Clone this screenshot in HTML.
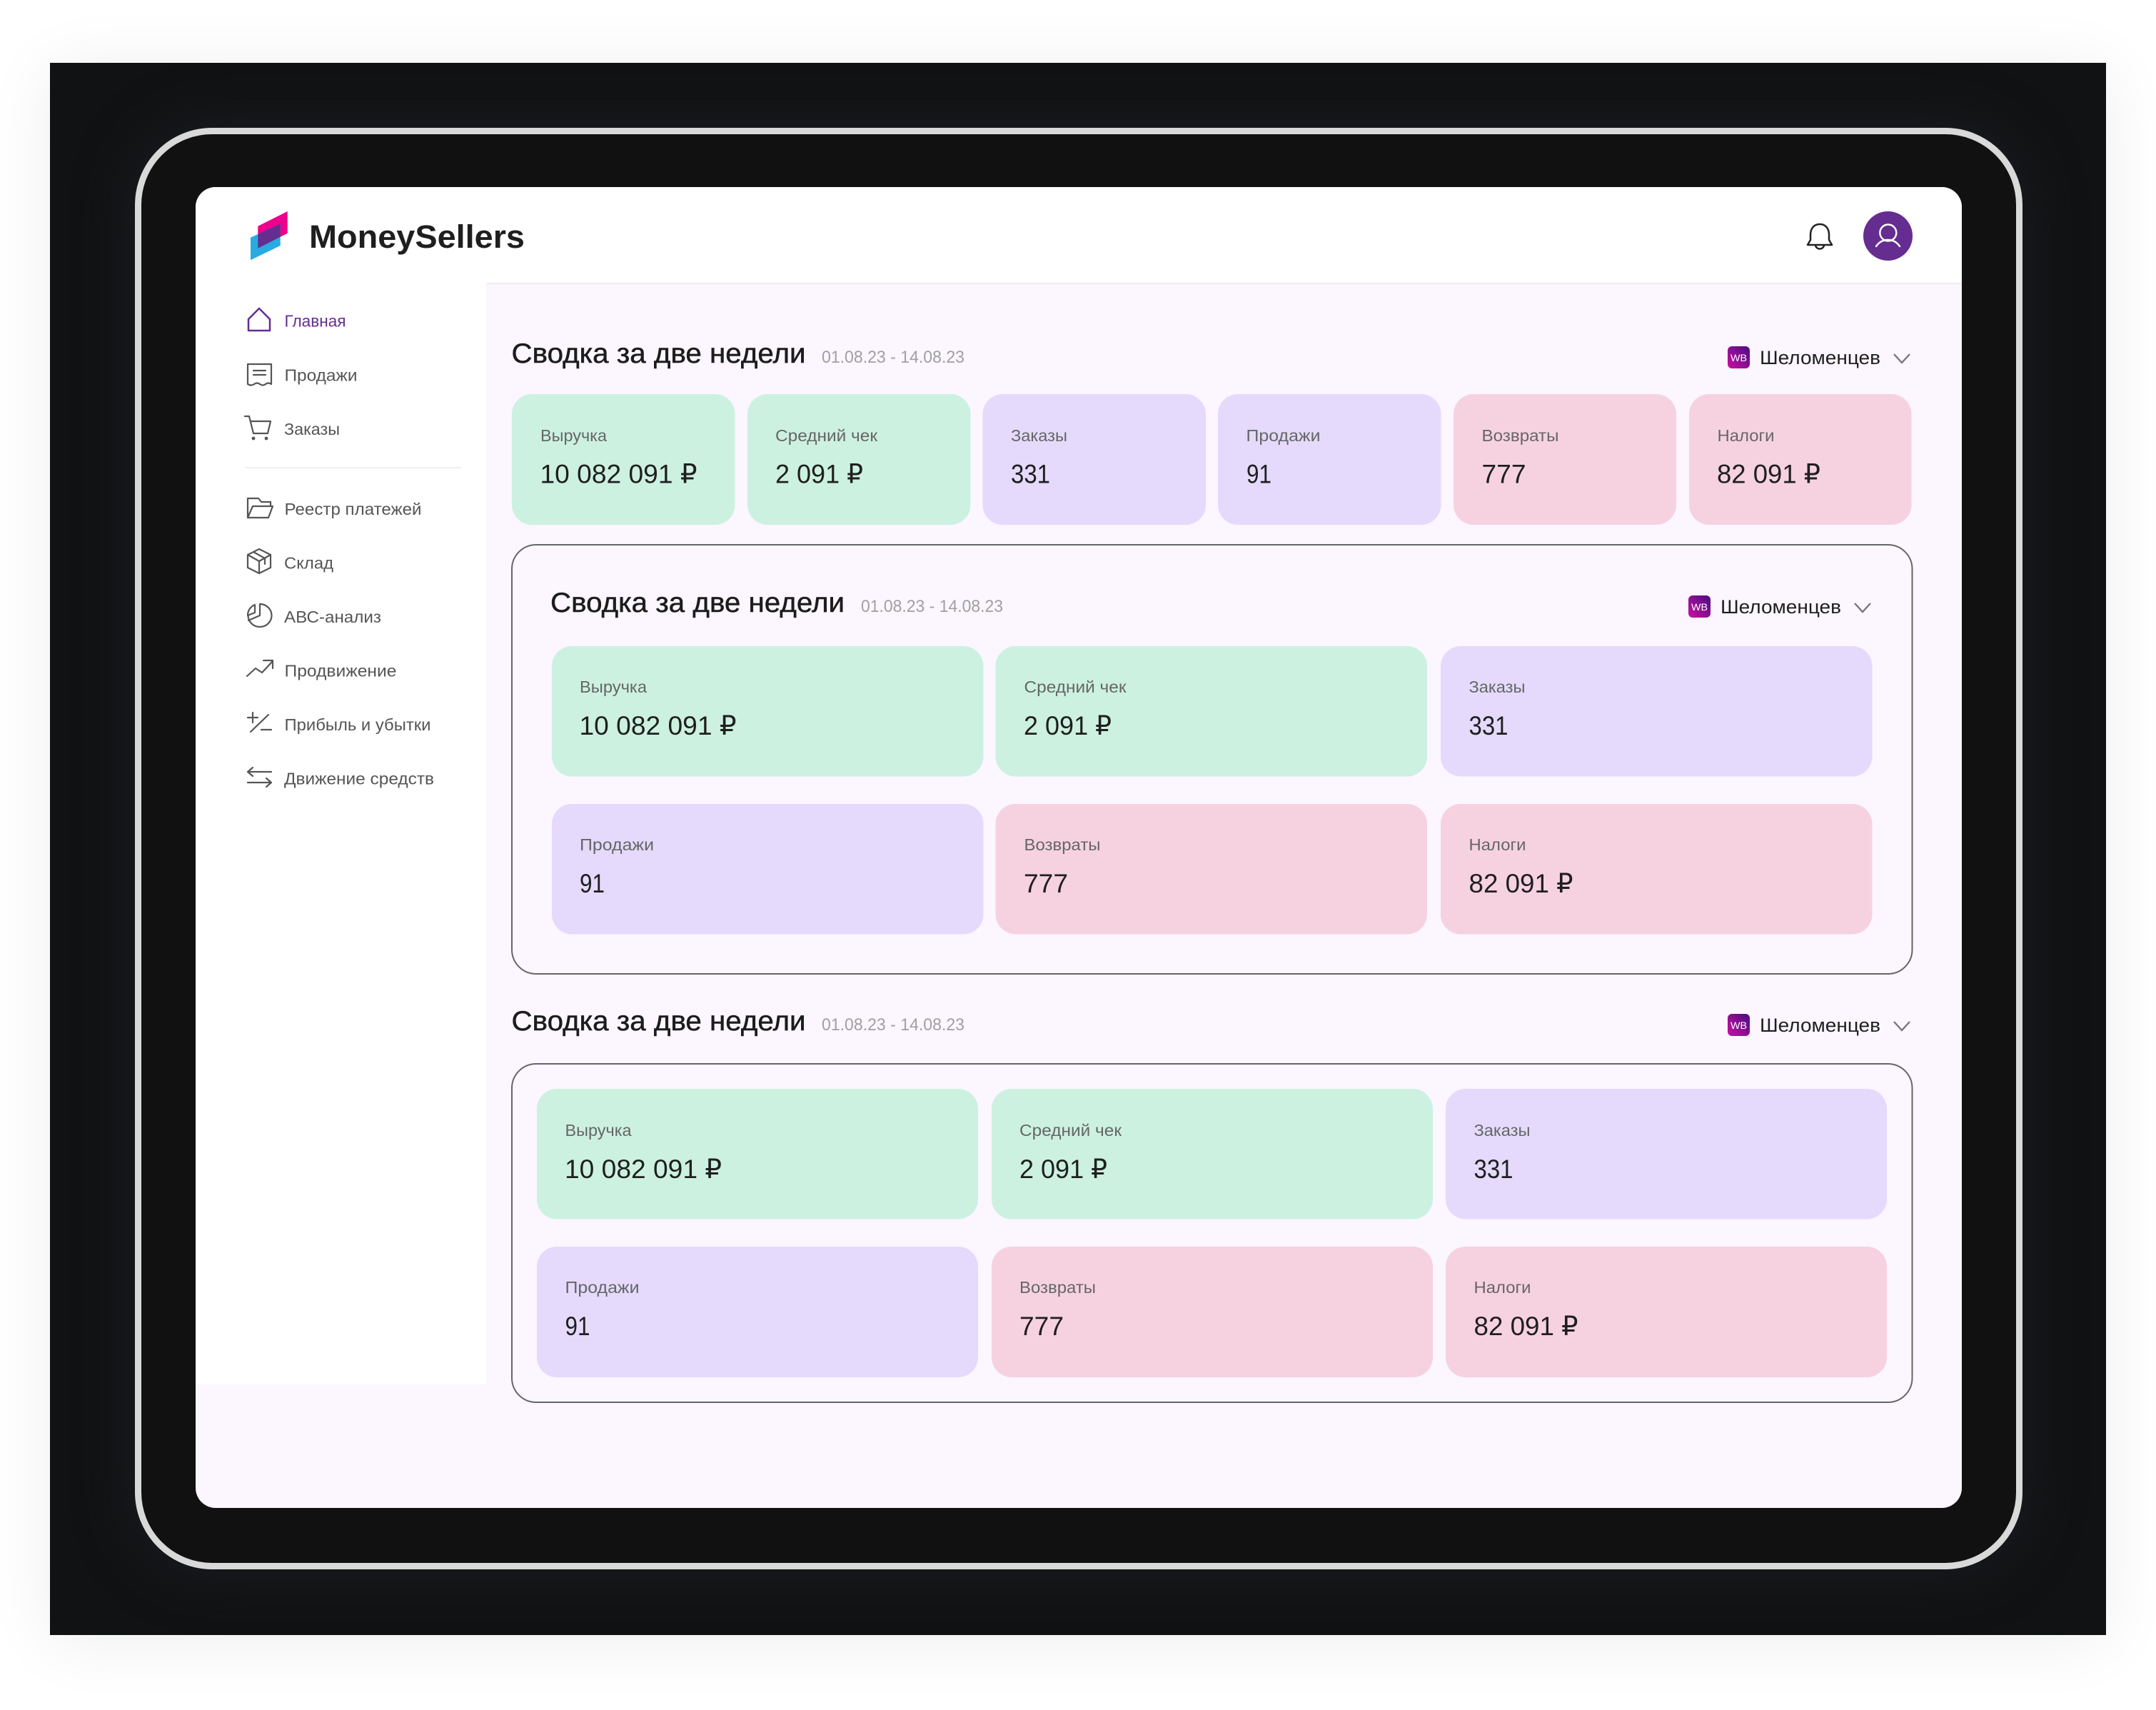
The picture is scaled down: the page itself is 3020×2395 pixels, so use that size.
<!DOCTYPE html>
<html lang="ru">
<head>
<meta charset="utf-8">
<title>MoneySellers</title>
<style>
html,body{margin:0;padding:0;width:3020px;height:2395px;overflow:hidden;background:#fff}
#dark{position:absolute;left:70px;top:88px;width:2880px;height:2202px;background:#111213;box-shadow:0 8px 90px rgba(0,0,0,.07)}
#frame{position:absolute;left:189px;top:179px;width:2644px;height:2019px;box-sizing:border-box;border:9px solid #d9d9d9;border-radius:108px;background:#111;box-shadow:0 0 70px 10px #191b20}
svg{position:absolute;left:0;top:0}
text{font-family:"Liberation Sans","DejaVu Sans",sans-serif}
.nav{font-size:23px;fill:#555}
.h{font-size:39px;fill:#1c1c1c;stroke:#1c1c1c;stroke-width:.5px}
.d{font-size:24px;fill:#a0a0a0}
.l{font-size:23px;fill:#666}
.v{font-size:37px;fill:#1f1f1f}
.s{font-size:27px;fill:#1f1f1f}
.w{font-size:14px;fill:#fff}
.ic{fill:none;stroke:#555;stroke-width:2.2;stroke-linejoin:round;stroke-linecap:round}
.g{fill:#CCF1E1}.p{fill:#E5DAFC}.r{fill:#F6D2E0}
.chev{fill:none;stroke:#777;stroke-width:2.4}
.box{fill:none;stroke:#666;stroke-width:2}
</style>
</head>
<body>
<div id="dark"></div>
<div id="frame"></div>
<svg width="3020" height="2395" viewBox="0 0 3020 2395" xmlns="http://www.w3.org/2000/svg">
<defs>
<linearGradient id="wb" x1="0" y1="1" x2="1" y2="0"><stop offset="0" stop-color="#c9119f"/><stop offset="1" stop-color="#4a0d82"/></linearGradient>
</defs>
<!-- screen -->
<rect x="274" y="262" width="2474" height="1850" rx="28" fill="#FBF6FF"/>
<path d="M274 1939V290a28 28 0 0 1 28-28H2720a28 28 0 0 1 28 28V397H681V1939Z" fill="#fff"/>
<rect x="681" y="396" width="2067" height="2" fill="#eeeef0"/>
<!-- logo -->
<polygon points="361.3,316.7 402.7,296 402.7,326.7 361.3,347.7" fill="#EC008C"/>
<polygon points="351,332.7 392.7,313.3 392.7,344 351,364.3" fill="#29ABE2"/>
<polygon points="361.3,327.9 392.7,313.3 392.7,331.8 361.3,347.7" fill="#652D90"/>
<text x="433" y="347" font-size="45" font-weight="700" fill="#1f1f1f" textLength="302" lengthAdjust="spacingAndGlyphs">MoneySellers</text>
<!-- bell, avatar -->
<path d="M2549 314c-9 0-13 7-13 15v7l-4 7h34l-4-7v-7c0-8-4-15-13-15Z" fill="none" stroke="#222" stroke-width="2.5" stroke-linejoin="round"/>
<path d="M2543 343a6 5.5 0 0 0 12 0" fill="none" stroke="#222" stroke-width="2.5"/>
<circle cx="2644.5" cy="330.5" r="34.5" fill="#652D90"/>
<circle cx="2644.8" cy="326" r="11.5" fill="none" stroke="#fff" stroke-width="2.4"/>
<path d="M2628 345c4-6 10-9 16.500-9s12.500 3 16.500 9" fill="none" stroke="#fff" stroke-width="2.4" stroke-linecap="round"/>
<!-- nav -->
<path d="M348 447L363 432L378 447V463H348Z" fill="none" stroke="#652D90" stroke-width="2.5" stroke-linejoin="round"/>
<text class="nav" x="398.500" y="457.600" style="fill:#652D90" textLength="86" lengthAdjust="spacingAndGlyphs">Главная</text>
<path class="ic" d="M347 510H380V538q-4-3-8 0t-8 0t-8 0t-9 0ZM355 519H372M355 525H372"/>
<text class="nav" x="398.500" y="533.500" textLength="102" lengthAdjust="spacingAndGlyphs">Продажи</text>
<path class="ic" d="M343 583H349L355 607H375L379 590H351"/><circle cx="355" cy="614" r="2.400" fill="#555"/><circle cx="373" cy="614" r="2.400" fill="#555"/>
<text class="nav" x="398" y="609" textLength="78" lengthAdjust="spacingAndGlyphs">Заказы</text>
<rect x="343" y="654" width="304" height="2" fill="#eeeef0"/>
<path class="ic" d="M347 725V698H362L366 703H379V709M347 725H376L382 709H354L347 725"/>
<text class="nav" x="398.500" y="721" textLength="192" lengthAdjust="spacingAndGlyphs">Реестр платежей</text>
<path class="ic" d="M363 769L379 777V795L363 803L347 795V777ZM347 777L363 786L379 777M363 786V803M355 773L371 782V790"/>
<text class="nav" x="398" y="796.400" textLength="69" lengthAdjust="spacingAndGlyphs">Склад</text>
<path class="ic" d="M364 846a16.500 16 0 1 1-16.500 16M364 846V862L348 869M347 862a16.500 16 0 0 1 10-15V858Z"/>
<text class="nav" x="398" y="872" textLength="136" lengthAdjust="spacingAndGlyphs">АВС-анализ</text>
<path class="ic" d="M346 947L358 936L367 942L381 927M369 925H382V936"/>
<text class="nav" x="398.500" y="947.400" textLength="157" lengthAdjust="spacingAndGlyphs">Продвижение</text>
<path class="ic" d="M347 1005H361M354 998V1012M351 1025L376 1001M366 1022H380"/>
<text class="nav" x="398.500" y="1023" textLength="205" lengthAdjust="spacingAndGlyphs">Прибыль и убытки</text>
<path class="ic" d="M347 1081H380M354 1075L347 1081L354 1087M347 1096H380M373 1090L380 1096L373 1102"/>
<text class="nav" x="398" y="1098.500" textLength="210" lengthAdjust="spacingAndGlyphs">Движение средств</text>

<!-- section 1 -->
<text class="h" x="716.500" y="508" textLength="412" lengthAdjust="spacingAndGlyphs">Сводка за две недели</text>
<text class="d" x="1151" y="508" textLength="200" lengthAdjust="spacingAndGlyphs">01.08.23 - 14.08.23</text>
<rect x="2420" y="485" width="31" height="31" rx="6" fill="url(#wb)"/>
<text class="w" x="2424" y="506" textLength="23" lengthAdjust="spacingAndGlyphs">WB</text>
<text class="s" x="2465" y="510" textLength="169" lengthAdjust="spacingAndGlyphs">Шеломенцев</text>
<path class="chev" d="M2653 496L2664 508L2675 496"/>

<rect class="g" x="717" y="552" width="312.500" height="183" rx="28"/>
<rect class="g" x="1047" y="552" width="312.500" height="183" rx="28"/>
<rect class="p" x="1376.500" y="552" width="312.500" height="183" rx="28"/>
<rect class="p" x="1706" y="552" width="312.500" height="183" rx="28"/>
<rect class="r" x="2036" y="552" width="312" height="183" rx="28"/>
<rect class="r" x="2366" y="552" width="311.500" height="183" rx="28"/>
<text class="l" x="757" y="618" textLength="93" lengthAdjust="spacingAndGlyphs">Выручка</text>
<text class="v" x="756.500" y="676.500" textLength="220" lengthAdjust="spacingAndGlyphs">10 082 091 ₽</text>
<text class="l" x="1086" y="618" textLength="143" lengthAdjust="spacingAndGlyphs">Средний чек</text>
<text class="v" x="1086" y="676.500" textLength="123" lengthAdjust="spacingAndGlyphs">2 091 ₽</text>
<text class="l" x="1416" y="618" textLength="79" lengthAdjust="spacingAndGlyphs">Заказы</text>
<text class="v" x="1416" y="676.500" textLength="55" lengthAdjust="spacingAndGlyphs">331</text>
<text class="l" x="1745.500" y="618" textLength="104" lengthAdjust="spacingAndGlyphs">Продажи</text>
<text class="v" x="1746" y="676.500" textLength="35" lengthAdjust="spacingAndGlyphs">91</text>
<text class="l" x="2075.500" y="618" textLength="108" lengthAdjust="spacingAndGlyphs">Возвраты</text>
<text class="v" x="2075.500" y="676.500" textLength="62" lengthAdjust="spacingAndGlyphs">777</text>
<text class="l" x="2405.500" y="618" textLength="80" lengthAdjust="spacingAndGlyphs">Налоги</text>
<text class="v" x="2405" y="676.500" textLength="145" lengthAdjust="spacingAndGlyphs">82 091 ₽</text>

<!-- section 2 -->
<rect class="box" x="717" y="763" width="1961.500" height="601" rx="34"/>
<text class="h" x="771" y="857" textLength="412" lengthAdjust="spacingAndGlyphs">Сводка за две недели</text>
<text class="d" x="1206" y="857" textLength="199" lengthAdjust="spacingAndGlyphs">01.08.23 - 14.08.23</text>
<rect x="2365" y="834" width="31" height="31" rx="6" fill="url(#wb)"/>
<text class="w" x="2369" y="855" textLength="23" lengthAdjust="spacingAndGlyphs">WB</text>
<text class="s" x="2410" y="859" textLength="169" lengthAdjust="spacingAndGlyphs">Шеломенцев</text>
<path class="chev" d="M2598 845L2609 857L2620 845"/>

<rect class="g" x="773" y="905" width="604.500" height="182.500" rx="28"/>
<rect class="g" x="1394.500" y="905" width="604.500" height="182.500" rx="28"/>
<rect class="p" x="2018" y="905" width="604.500" height="182.500" rx="28"/>
<rect class="p" x="773" y="1126" width="604.500" height="182.500" rx="28"/>
<rect class="r" x="1394.500" y="1126" width="604.500" height="182.500" rx="28"/>
<rect class="r" x="2018" y="1126" width="604.500" height="182.500" rx="28"/>
<text class="l" x="812" y="970" textLength="94" lengthAdjust="spacingAndGlyphs">Выручка</text>
<text class="v" x="811.500" y="1029" textLength="220" lengthAdjust="spacingAndGlyphs">10 082 091 ₽</text>
<text class="l" x="1434.500" y="970" textLength="143" lengthAdjust="spacingAndGlyphs">Средний чек</text>
<text class="v" x="1434" y="1029" textLength="123" lengthAdjust="spacingAndGlyphs">2 091 ₽</text>
<text class="l" x="2057.500" y="970" textLength="79" lengthAdjust="spacingAndGlyphs">Заказы</text>
<text class="v" x="2057.500" y="1029" textLength="55" lengthAdjust="spacingAndGlyphs">331</text>
<text class="l" x="812" y="1191" textLength="104" lengthAdjust="spacingAndGlyphs">Продажи</text>
<text class="v" x="812" y="1250" textLength="35" lengthAdjust="spacingAndGlyphs">91</text>
<text class="l" x="1434.500" y="1191" textLength="107" lengthAdjust="spacingAndGlyphs">Возвраты</text>
<text class="v" x="1434" y="1250" textLength="62" lengthAdjust="spacingAndGlyphs">777</text>
<text class="l" x="2057.500" y="1191" textLength="80" lengthAdjust="spacingAndGlyphs">Налоги</text>
<text class="v" x="2057.500" y="1250" textLength="146" lengthAdjust="spacingAndGlyphs">82 091 ₽</text>

<!-- section 3 -->
<text class="h" x="716.500" y="1443" textLength="412" lengthAdjust="spacingAndGlyphs">Сводка за две недели</text>
<text class="d" x="1151" y="1443" textLength="200" lengthAdjust="spacingAndGlyphs">01.08.23 - 14.08.23</text>
<rect x="2420" y="1420" width="31" height="31" rx="6" fill="url(#wb)"/>
<text class="w" x="2424" y="1441" textLength="23" lengthAdjust="spacingAndGlyphs">WB</text>
<text class="s" x="2465" y="1445" textLength="169" lengthAdjust="spacingAndGlyphs">Шеломенцев</text>
<path class="chev" d="M2653 1431L2664 1443L2675 1431"/>

<rect class="box" x="717" y="1490" width="1961.500" height="474" rx="34"/>
<rect class="g" x="752" y="1525" width="618" height="182.500" rx="28"/>
<rect class="g" x="1389" y="1525" width="618" height="182.500" rx="28"/>
<rect class="p" x="2025" y="1525" width="618" height="182.500" rx="28"/>
<rect class="p" x="752" y="1746" width="618" height="183" rx="28"/>
<rect class="r" x="1389" y="1746" width="618" height="183" rx="28"/>
<rect class="r" x="2025" y="1746" width="618" height="183" rx="28"/>
<text class="l" x="791.500" y="1591" textLength="93" lengthAdjust="spacingAndGlyphs">Выручка</text>
<text class="v" x="791" y="1650" textLength="220" lengthAdjust="spacingAndGlyphs">10 082 091 ₽</text>
<text class="l" x="1428" y="1591" textLength="143" lengthAdjust="spacingAndGlyphs">Средний чек</text>
<text class="v" x="1428" y="1650" textLength="123" lengthAdjust="spacingAndGlyphs">2 091 ₽</text>
<text class="l" x="2064.500" y="1591" textLength="79" lengthAdjust="spacingAndGlyphs">Заказы</text>
<text class="v" x="2064.500" y="1650" textLength="55" lengthAdjust="spacingAndGlyphs">331</text>
<text class="l" x="791.500" y="1811" textLength="104" lengthAdjust="spacingAndGlyphs">Продажи</text>
<text class="v" x="791.500" y="1870" textLength="35" lengthAdjust="spacingAndGlyphs">91</text>
<text class="l" x="1428" y="1811" textLength="107" lengthAdjust="spacingAndGlyphs">Возвраты</text>
<text class="v" x="1428" y="1870" textLength="62" lengthAdjust="spacingAndGlyphs">777</text>
<text class="l" x="2064.500" y="1811" textLength="80" lengthAdjust="spacingAndGlyphs">Налоги</text>
<text class="v" x="2064.500" y="1870" textLength="146" lengthAdjust="spacingAndGlyphs">82 091 ₽</text>
</svg>
</body>
</html>
